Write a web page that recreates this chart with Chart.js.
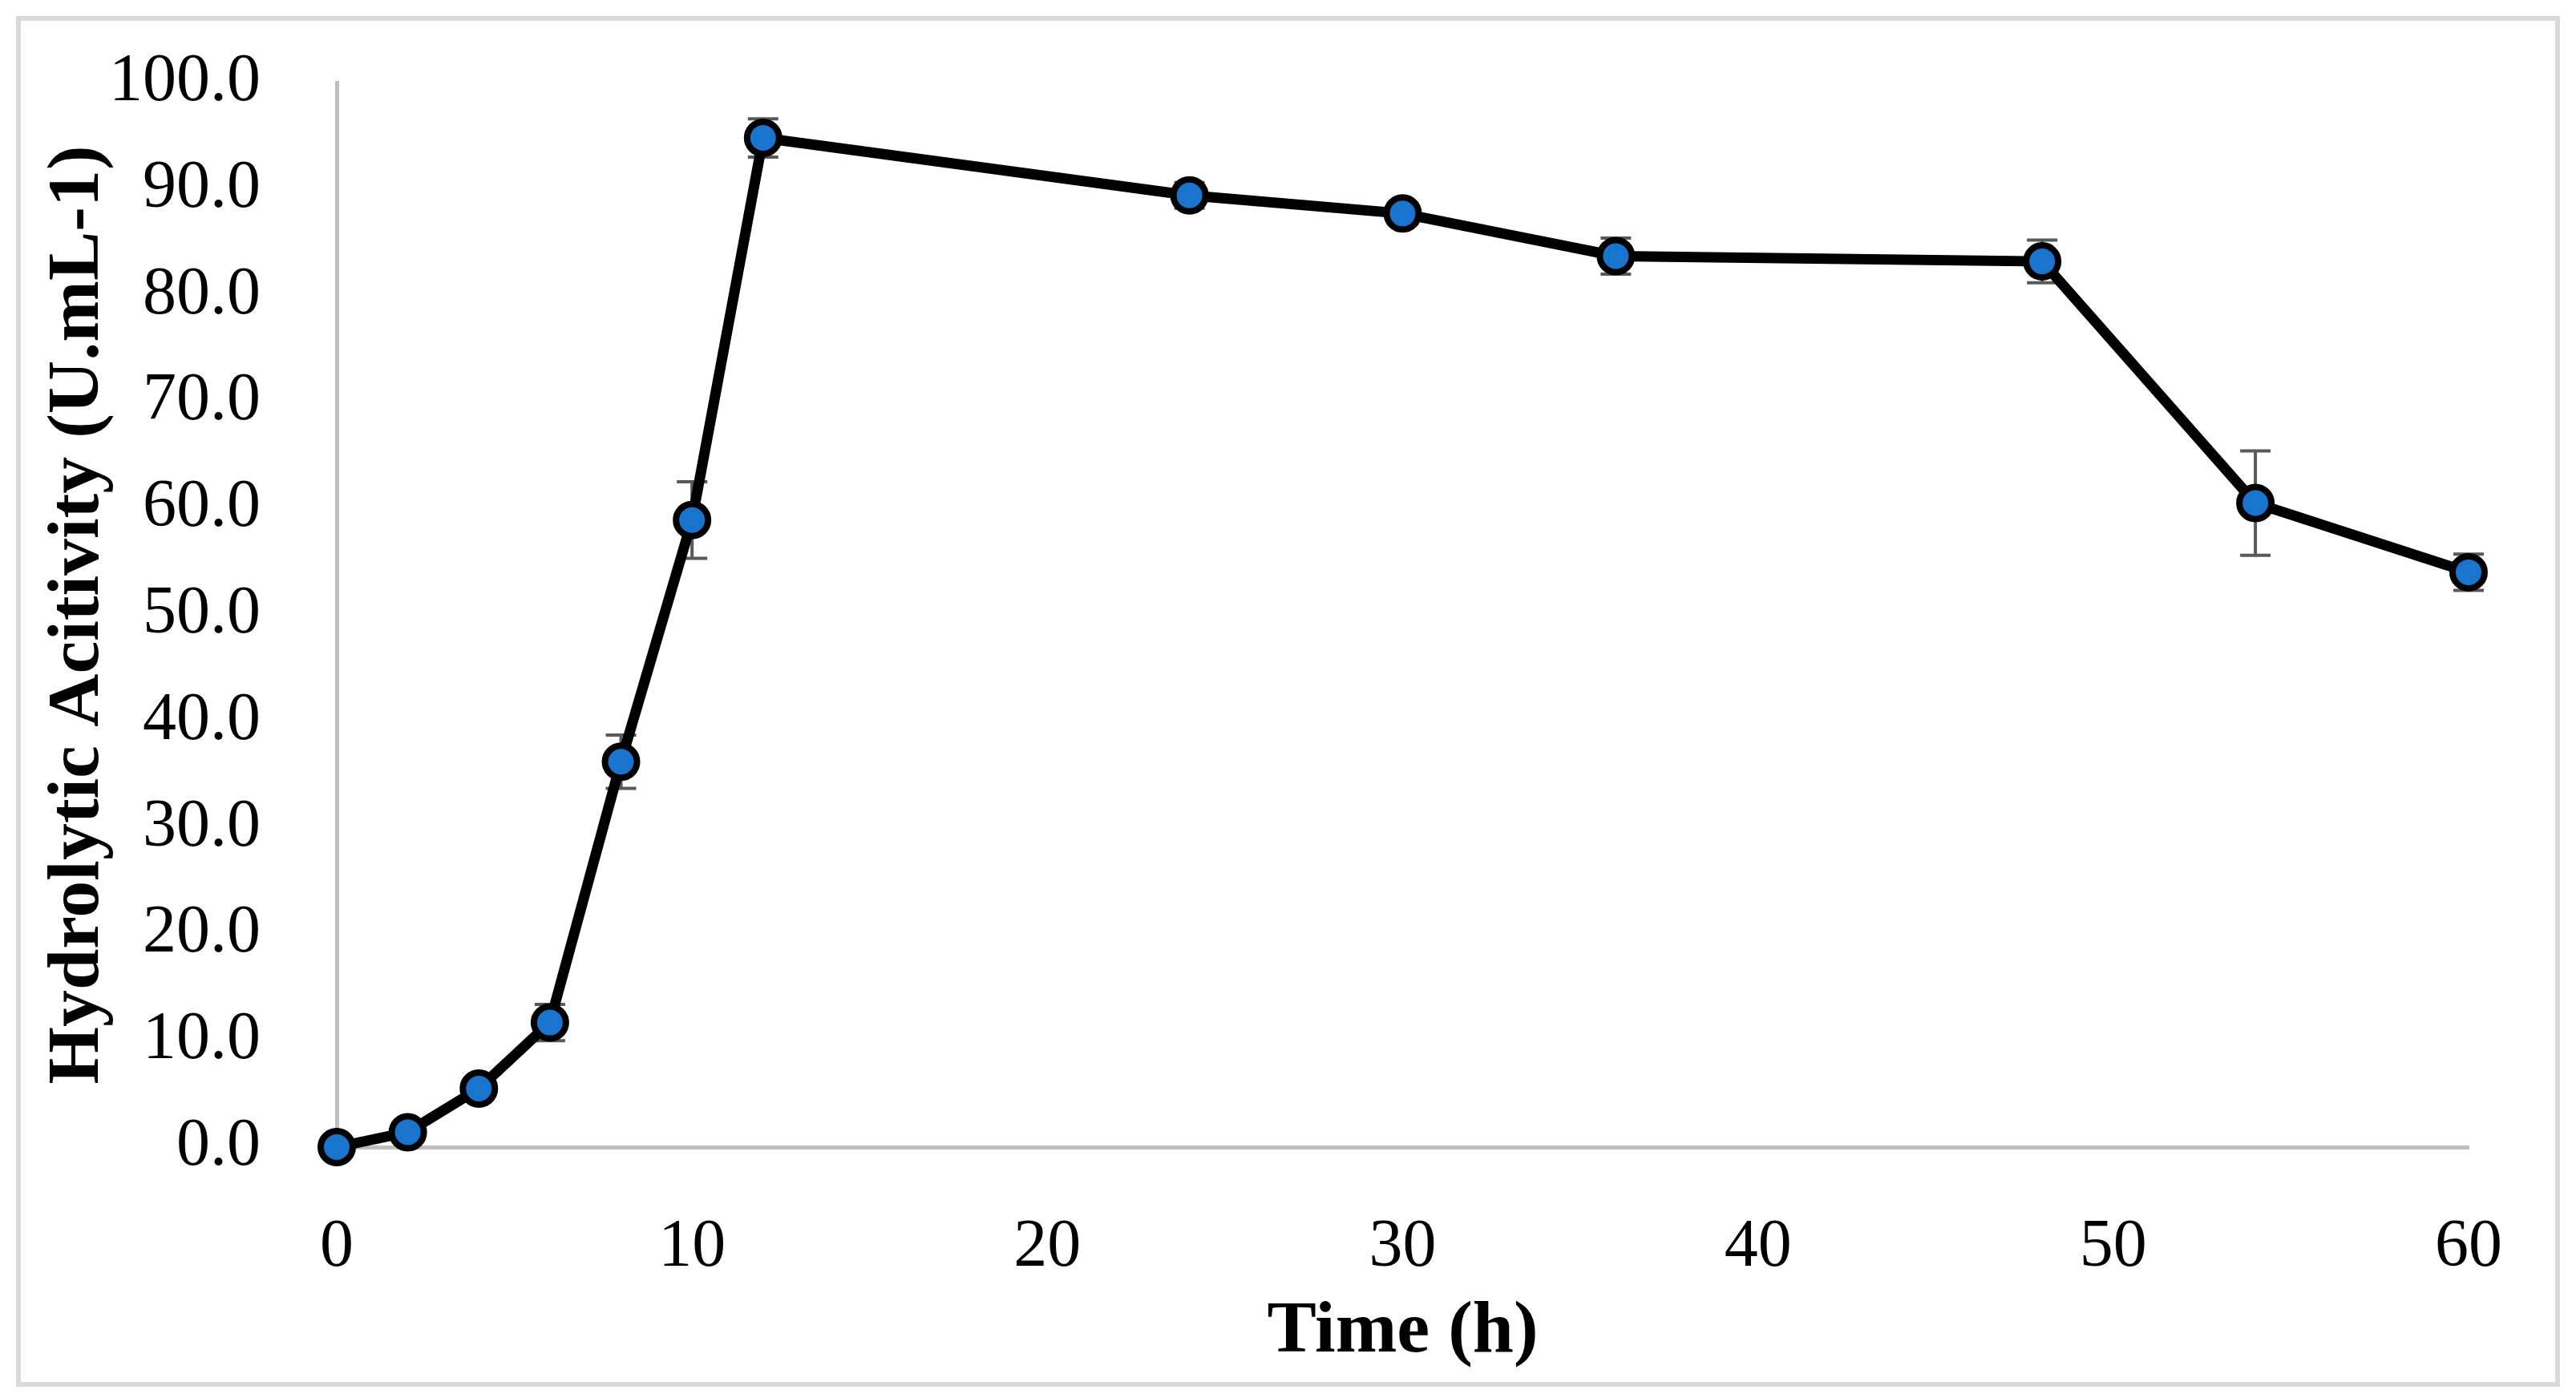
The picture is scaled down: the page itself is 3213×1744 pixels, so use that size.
<!DOCTYPE html>
<html>
<head>
<meta charset="utf-8">
<script src="https://cdn.jsdelivr.net/npm/chart.js@4/dist/chart.umd.min.js"></script>
<style>
  html, body { margin: 0; padding: 0; background: #fff; }
  #wrap { width: 3213px; height: 1744px; }
</style>
</head>
<body>
<div id="wrap"><canvas id="activityChart" width="3213" height="1744"></canvas></div>
<script>
// data
const hours = [0, 2, 4, 6, 8, 10, 12, 24, 30, 36, 48, 54, 60];
const activity = [0.0, 1.4, 5.5, 11.7, 36.2, 58.9, 94.8, 89.4, 87.7, 83.7, 83.2, 60.5, 54.0];
const activityErr = [0.0, 0.5, 0.5, 1.7, 2.5, 3.6, 1.8, 1.2, 1.0, 1.7, 2.0, 4.9, 1.7];
const xTicks = [0, 10, 20, 30, 40, 50, 60];
const yTicks = [0, 10, 20, 30, 40, 50, 60, 70, 80, 90, 100];

// error bars, drawn under the line and markers
const errorBars = {
    id: 'errorBars',
    beforeDatasetsDraw(chart) {
        const ctx = chart.ctx;
        const x = chart.scales.x;
        const y = chart.scales.y;
        ctx.save();
        ctx.strokeStyle = '#595959';
        ctx.lineWidth = 4;
        hours.forEach((h, i) => {
            const px = x.getPixelForValue(h);
            const top = y.getPixelForValue(activity[i] + activityErr[i]);
            const bot = y.getPixelForValue(activity[i] - activityErr[i]);
            ctx.beginPath();
            ctx.moveTo(px, top); ctx.lineTo(px, bot);
            ctx.moveTo(px - 19, top); ctx.lineTo(px + 19, top);
            ctx.moveTo(px - 19, bot); ctx.lineTo(px + 19, bot);
            ctx.stroke();
        });
        ctx.restore();
    }
};

// light grey outer frame
const frame = {
    id: 'frame',
    beforeDraw(chart) {
        const ctx = chart.ctx;
        ctx.save();
        ctx.fillStyle = '#fff';
        ctx.fillRect(0, 0, chart.width, chart.height);
        ctx.strokeStyle = '#d9d9d9';
        ctx.lineWidth = 6;
        ctx.strokeRect(23, 23, chart.width - 46, chart.height - 40);
        ctx.restore();
    }
};

const ctx = document.getElementById('activityChart').getContext('2d');
new Chart(ctx, {
    type: 'line',
    data: {
        datasets: [{
            label: 'Hydrolytic Activity',
            data: hours.map((h, i) => ({ x: h, y: activity[i] })),
            clip: false,
            borderColor: '#000',
            borderWidth: 13,
            tension: 0,
            pointRadius: 20,
            pointHoverRadius: 20,
            pointBorderWidth: 8,
            pointBackgroundColor: '#1874CD',
            pointBorderColor: '#000'
        }]
    },
    options: {
        responsive: false,
        animation: false,
        devicePixelRatio: 1,
        layout: { padding: { left: 30, right: 134, top: 103, bottom: 30 } },
        plugins: {
            legend: { display: false },
            tooltip: { enabled: false }
        },
        scales: {
            x: {
                type: 'linear',
                min: 0,
                max: 60,
                afterFit: function(scale) { scale.height = 283; },
                afterBuildTicks: function(scale) { scale.ticks = xTicks.map(v => ({ value: v })); },
                grid: { display: false, drawTicks: false },
                border: { display: true, color: '#bfbfbf', width: 5 },
                ticks: {
                    padding: 76,
                    color: '#000',
                    font: { family: 'Liberation Serif', size: 84 }
                },
                title: {
                    display: true,
                    text: 'Time (h)',
                    color: '#000',
                    padding: { top: 0, bottom: 6 },
                    font: { family: 'Liberation Serif', size: 92, weight: 'bold', lineHeight: 1 }
                }
            },
            y: {
                min: 0,
                max: 100,
                afterFit: function(scale) {
                    scale.width = 390;
                    // tick padding would otherwise push the plot top down
                    scale.paddingTop = 40;
                    scale.paddingBottom = 40;
                },
                afterBuildTicks: function(scale) { scale.ticks = yTicks.map(v => ({ value: v })); },
                grid: { display: false, drawTicks: false },
                border: { display: true, color: '#bfbfbf', width: 5 },
                ticks: {
                    padding: 95,
                    color: '#000',
                    font: { family: 'Liberation Serif', size: 84 },
                    callback: function(value) { return value.toFixed(1); }
                },
                title: {
                    display: true,
                    text: 'Hydrolytic Acitivity (U.mL-1)',
                    color: '#000',
                    padding: { top: 22, bottom: 0 },
                    font: { family: 'Liberation Serif', size: 92, weight: 'bold', lineHeight: 1 }
                }
            }
        }
    },
    plugins: [frame, errorBars]
});
</script>
</body>
</html>
